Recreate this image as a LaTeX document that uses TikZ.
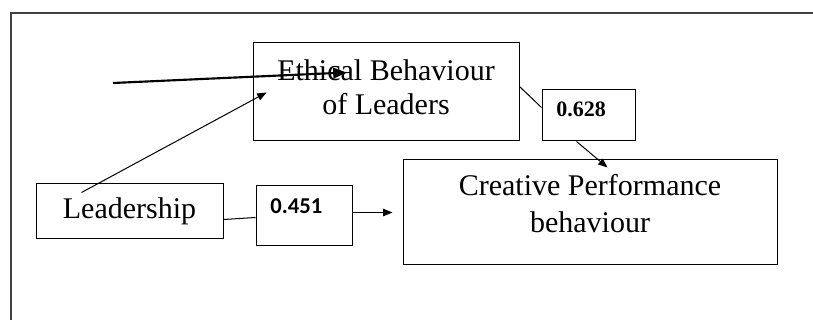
\documentclass[tikz,border=0pt]{standalone}
\usepackage{fontspec}
\setmainfont{Liberation Serif}
\newfontfamily\numfont{Carlito}
\newfontfamily\valfont{Liberation Serif}
\usetikzlibrary{arrows.meta,calc}
\newcommand{\thinw}{0.75pt}
\newcommand{\thickw}{1.6pt}

\begin{document}
\begin{tikzpicture}[x=0.75pt,y=-0.75pt]
    \tikzset{box/.style={draw, line width=\thinw, inner sep=0pt},
        bigtxt/.style={inner sep=0pt, align=center, font=\fontsize{22.5}{25.5}\selectfont},
        valtxt/.style={inner sep=0pt, anchor=base west},
        arr/.style={line width=\thinw, -{Triangle[length=7pt,width=5.5pt]}}}
    \useasboundingbox (0,0) rectangle (813,320);
    %\draw[help lines] (0,0) grid (813,320);
    \draw[line width=1pt, black!75] (11,320) -- (11,13) -- (813,13);
    % boxes
    \node[box, minimum width=199.5pt, minimum height=73.5pt] (eth) at (386,92) {};
    \node[bigtxt] (ethtxt) at (386,87) {Ethical Behaviour\\of Leaders};
    \node[box, minimum width=140.25pt, minimum height=41.25pt, font=\fontsize{22.5}{25.5}\selectfont] (lead) at (129.5,211.5) {Leadership};
    \node[box, minimum width=72pt, minimum height=45pt] (v451) at (304,216) {};
    \node[valtxt, font=\numfont\bfseries\fontsize{17}{20}\selectfont] (v451txt) at (270,214) {0.451};
    \node[box, minimum width=69.75pt, minimum height=38.25pt] (v628) at (588.5,115.5) {};
    \node[valtxt, font=\valfont\bfseries\fontsize{16.5}{19}\selectfont] (v628txt) at (556,117) {0.628};
    \node[box, minimum width=280.5pt, minimum height=78pt] (creative) at (590,212) {};
    \node[bigtxt, font=\fontsize{22.5}{27.5}\selectfont] (creativetxt) at (590,203.5) {Creative Performance\\behaviour};
    % connectors
    \coordinate (free) at (113,83);
    \draw[line width=\thickw, -{Triangle[length=10pt,width=8pt]}] (free) -- ($(eth.north west)+(94,30)$);
    \draw[arr] ($(lead.north west)+(46,9)$) -- ($(eth.south west)+(14,-49)$);
    \draw[line width=\thinw] ($(eth.north east)+(0,44)$) -- ($(v628.north west)+(0,18)$);
    \draw[arr] ($(v628.south west)+(35,0)$) -- ($(creative.north west)+(205,8)$);
    \draw[line width=\thinw] ($(lead.south east)+(0,-20)$) -- ($(v451.north west)+(0,32)$);
    \draw[arr] ($(v451.north east)+(0,27)$) -- ($(creative.north west)+(-10,53)$);
\end{tikzpicture}
\end{document}
